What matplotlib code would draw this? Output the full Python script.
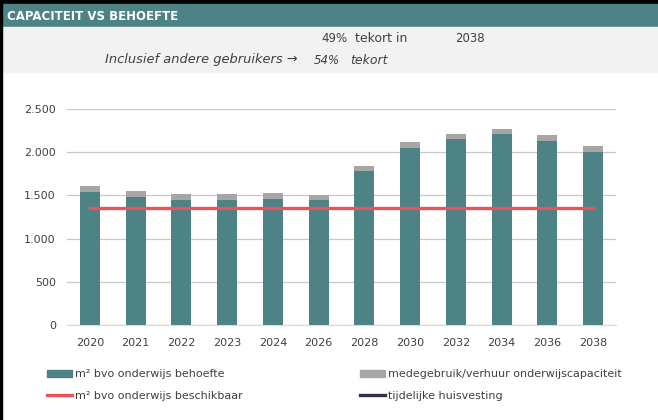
import matplotlib
matplotlib.use("Agg")
import matplotlib.pyplot as plt
from matplotlib.patches import Rectangle, Patch
from matplotlib.lines import Line2D
from matplotlib.ticker import FuncFormatter

# data
years = ["2020", "2021", "2022", "2023", "2024", "2026", "2028", "2030", "2032", "2034", "2036", "2038"]
behoefte = [1545, 1485, 1450, 1450, 1462, 1450, 1782, 2052, 2153, 2207, 2133, 2006]
medegebruik = [60, 62, 65, 62, 62, 58, 58, 65, 62, 62, 66, 66]
beschikbaar = [1350] * len(years)

teal = "#4d8384"
grey = "#a6a6a6"
red = "#e8545a"
navy = "#34304a"
txt = "#404040"

plt.rcParams['font.family'] = ['DejaVu Sans']

W, H = 658, 420
fig = plt.figure(figsize=(W / 100, H / 100), dpi=100)
fig.patch.set_facecolor("white")

def px(x0, y0, w, h):
    # pixel box (from top-left) -> figure fraction
    return (x0 / W, 1 - (y0 + h) / H, w / W, h / H)

# header bands
for box, col in [((0, 0, W, 4), "black"), ((0, 4, W, 23), teal), ((0, 27, W, 45), "#f2f2f2"),
                 ((0, 0, 2, H), "black")]:
    x, y, w, h = px(*box)
    fig.patches.append(Rectangle((x, y), w, h, transform=fig.transFigure, color=col, zorder=0))

fig.text(7 / W, 1 - 16 / H, "CAPACITEIT VS BEHOEFTE", color="white", fontsize=8.5,
         fontweight="bold", va="center", ha="left")
fig.text(348 / W, 1 - 39 / H, "49%", color=txt, fontsize=8.5, va="center", ha="right")
fig.text(355 / W, 1 - 39 / H, "tekort in", color=txt, fontsize=9, va="center", ha="left")
fig.text(455 / W, 1 - 39 / H, "2038", color=txt, fontsize=8.5, va="center", ha="left")
fig.text(298 / W, 1 - 60 / H, "Inclusief andere gebruikers \u2192", color=txt, fontsize=9.4,
         style="italic", va="center", ha="right")
fig.text(340 / W, 1 - 60 / H, "54%", color=txt, fontsize=8.5, style="italic", va="center", ha="right")
fig.text(350 / W, 1 - 60 / H, "tekort", color=txt, fontsize=9, style="italic", va="center", ha="left")

ax = fig.add_axes(px(67, 109, 549, 216))
x = range(len(years))
ax.bar(x, behoefte, width=0.44, color=teal, zorder=2)
ax.bar(x, medegebruik, width=0.44, bottom=behoefte, color=grey, zorder=2)
ax.plot(x, beschikbaar, color=red, lw=2.4, zorder=3)

ax.set_xlim(-0.5, len(years) - 0.5)
ax.set_ylim(0, 2500)
ax.set_yticks(range(0, 2501, 500))
ax.yaxis.set_major_formatter(FuncFormatter(lambda v, p: f"{int(v):,}".replace(",", ".")))
ax.set_xticks(list(x))
ax.set_xticklabels(years)
ax.grid(axis="y", color="#c8c8c8", lw=0.9, zorder=0)
ax.set_axisbelow(True)
for s in ["top", "right", "left"]:
    ax.spines[s].set_visible(False)
ax.spines["bottom"].set_color("#d9d9d9")
ax.tick_params(length=0, labelsize=8, colors=txt)
ax.tick_params(axis="x", pad=9)
ax.tick_params(axis="y", pad=8)

leg_kw = dict(frameon=False, fontsize=8, handlelength=2.2, handletextpad=0.3,
              labelspacing=1.0, labelcolor=txt, loc="upper left", borderaxespad=0)
h1 = [Patch(color=teal), Line2D([], [], color=red, lw=2.4)]
fig.legend(h1, ["m² bvo onderwijs behoefte", "m² bvo onderwijs beschikbaar"],
           bbox_to_anchor=(43 / W, 1 - 365 / H), **leg_kw)
h2 = [Patch(color=grey), Line2D([], [], color=navy, lw=2.4)]
fig.legend(h2, ["medegebruik/verhuur onderwijscapaciteit", "tijdelijke huisvesting"],
           bbox_to_anchor=(356 / W, 1 - 365 / H), **leg_kw)

fig.savefig("out.png", dpi=100)
